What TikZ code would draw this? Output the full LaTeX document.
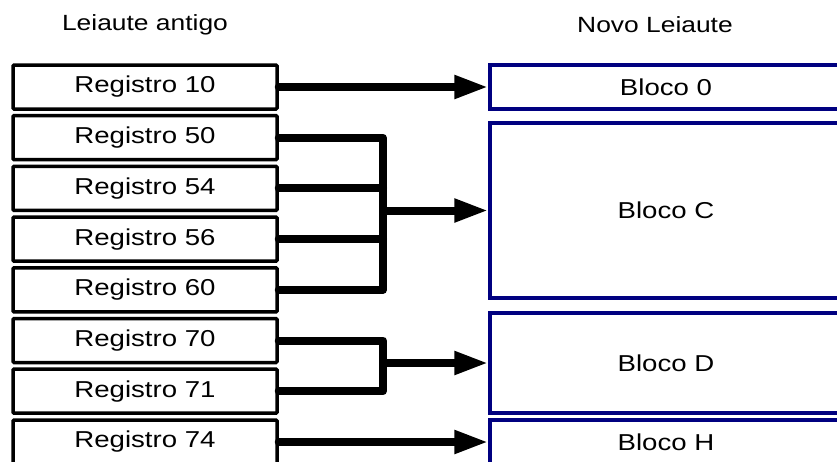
\documentclass[tikz,border=0pt]{standalone}
\usepackage{fontspec}
\usepackage{graphicx}
\setmainfont{Liberation Sans}
\usetikzlibrary{arrows.meta}
\definecolor{navyblk}{RGB}{0,0,128}
\newcommand{\wtxt}[1]{\scalebox{1.2}[1]{#1}}
\begin{document}
\begin{tikzpicture}[x=1pt,y=-1pt,
  oldbox/.style={draw=black, line width=3.5pt, rounded corners=1pt, minimum width=264pt, minimum height=44pt, inner sep=0pt, fill=white, font=\fontsize{23}{27}\selectfont},
  newbox/.style={draw=navyblk, line width=3.5pt, minimum width=352pt, inner sep=0pt, fill=white, font=\fontsize{23}{27}\selectfont},
  title/.style={font=\fontsize{22}{26}\selectfont, inner sep=0pt},
  conn/.style={line width=8pt, line cap=round, line join=round},
  arr/.style={conn, -{Triangle[length=34pt,width=22pt]}}
]
\useasboundingbox (0,0) rectangle (837,461);
\clip (0,0) rectangle (837,461);

\node[title] (t1) at (145,25) {\wtxt{Leiaute antigo}};
\node[title] (t2) at (655,25) {\wtxt{Novo Leiaute}};

\node[oldbox] (r10) at (145,87) {\wtxt{Registro 10}};
\node[oldbox] (r50) at (145,137.7) {\wtxt{Registro 50}};
\node[oldbox] (r54) at (145,188.4) {\wtxt{Registro 54}};
\node[oldbox] (r56) at (145,239.1) {\wtxt{Registro 56}};
\node[oldbox] (r60) at (145,289.8) {\wtxt{Registro 60}};
\node[oldbox] (r70) at (145,340.5) {\wtxt{Registro 70}};
\node[oldbox] (r71) at (145,391.2) {\wtxt{Registro 71}};
\node[oldbox] (r74) at (145,442) {\wtxt{Registro 74}};

\node[newbox, minimum height=44pt] (b0) at (666,87) {\wtxt{Bloco 0}};
\node[newbox, minimum height=175pt] (bc) at (666,210.5) {\wtxt{Bloco C}};
\node[newbox, minimum height=100pt] (bd) at (666,363) {\wtxt{Bloco D}};
\node[newbox, minimum height=44pt] (bh) at (666,442) {\wtxt{Bloco H}};

\coordinate (jx) at (383,0);

\draw[arr] (r10.east) -- (b0.west);
\draw[arr] (r74.east) -- (bh.west);

\draw[conn] (r50.east) -- (r50.east -| jx) -- (r60.east -| jx) -- (r60.east);
\draw[conn] (r54.east) -- (r54.east -| jx);
\draw[conn] (r56.east) -- (r56.east -| jx);
\draw[arr] (bc.west -| jx) -- (bc.west);

\draw[conn] (r70.east) -- (r70.east -| jx) -- (r71.east -| jx) -- (r71.east);
\draw[arr] (bd.west -| jx) -- (bd.west);
\end{tikzpicture}
\end{document}
